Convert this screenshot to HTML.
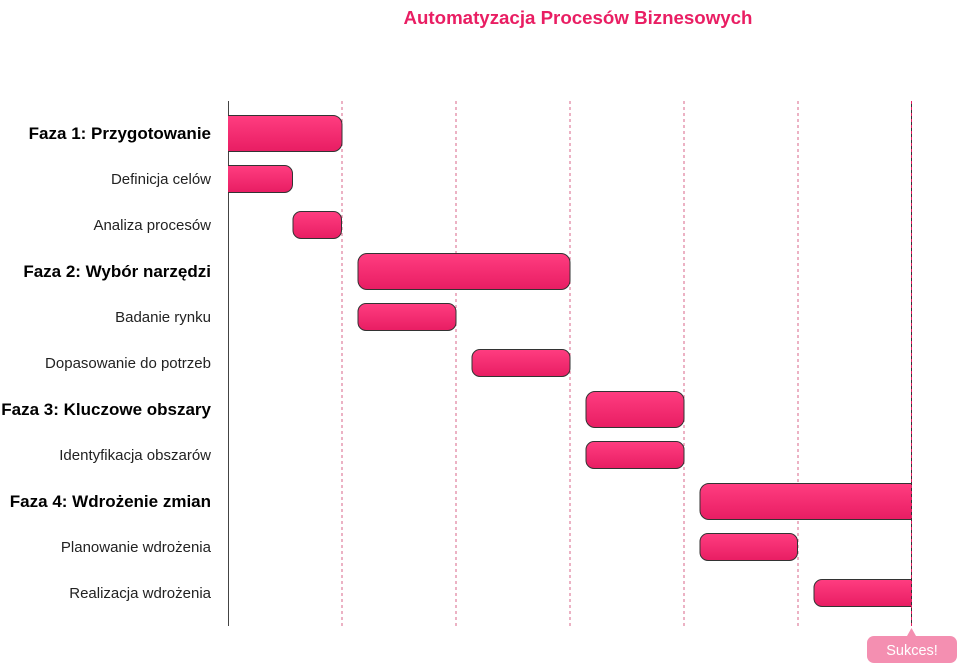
<!DOCTYPE html>
<html><head><meta charset="utf-8"><style>
body{margin:0;background:#fff;}
svg{display:block;font-family:"Liberation Sans",sans-serif;}
</style></head><body>
<svg width="961" height="668" viewBox="0 0 961 668">
<defs>
<linearGradient id="g" x1="0" y1="0" x2="0" y2="1"><stop offset="0" stop-color="#ff3d80"/><stop offset="1" stop-color="#e81d63"/></linearGradient>
<clipPath id="c"><rect x="228" y="95" width="683.5" height="540"/></clipPath>
</defs>
<text x="578" y="24" text-anchor="middle" font-size="18.7" font-weight="bold" fill="#e91e63">Automatyzacja Procesów Biznesowych</text>
<g stroke="#d8668a" stroke-width="1" stroke-dasharray="3,3">
<line x1="342" y1="101" x2="342" y2="626"/><line x1="456" y1="101" x2="456" y2="626"/>
<line x1="570" y1="101" x2="570" y2="626"/><line x1="684" y1="101" x2="684" y2="626"/>
<line x1="798" y1="101" x2="798" y2="626"/>
</g>
<line x1="228.5" y1="101" x2="228.5" y2="626" stroke="#444" stroke-width="1"/>
<g clip-path="url(#c)" fill="url(#g)" stroke="#333" stroke-width="1">
<rect x="218" y="115.5" width="124" height="36" rx="9"/>
<rect x="218" y="165.5" width="74.5" height="27" rx="8"/>
<rect x="293" y="211.5" width="48.5" height="27" rx="8"/>
<rect x="358" y="253.5" width="212" height="36" rx="9"/>
<rect x="358" y="303.5" width="98" height="27" rx="8"/>
<rect x="472" y="349.5" width="98" height="27" rx="8"/>
<rect x="586" y="391.5" width="98" height="36" rx="9"/>
<rect x="586" y="441.5" width="98" height="27" rx="8"/>
<rect x="700" y="483.5" width="225" height="36" rx="9"/>
<rect x="700" y="533.5" width="97.5" height="27" rx="8"/>
<rect x="814" y="579.5" width="110" height="27" rx="8"/>
</g>
<line x1="911.5" y1="101" x2="911.5" y2="626" stroke="#e91e63" stroke-width="1" stroke-dasharray="3,3"/>
<line x1="911.5" y1="101" x2="911.5" y2="626" stroke="#333" stroke-width="1" stroke-dasharray="3,3" stroke-dashoffset="3"/>
<g font-size="15" fill="#222" text-anchor="end">
<text x="211" y="139" font-size="17" font-weight="bold" fill="#000">Faza 1: Przygotowanie</text>
<text x="211" y="184">Definicja celów</text>
<text x="211" y="230">Analiza procesów</text>
<text x="211" y="277" font-size="17" font-weight="bold" fill="#000">Faza 2: Wybór narzędzi</text>
<text x="211" y="322">Badanie rynku</text>
<text x="211" y="368">Dopasowanie do potrzeb</text>
<text x="211" y="415" font-size="17" font-weight="bold" fill="#000">Faza 3: Kluczowe obszary</text>
<text x="211" y="460">Identyfikacja obszarów</text>
<text x="211" y="507" font-size="17" font-weight="bold" fill="#000">Faza 4: Wdrożenie zmian</text>
<text x="211" y="552">Planowanie wdrożenia</text>
<text x="211" y="598">Realizacja wdrożenia</text>
</g>
<path d="M907 636 L911.5 628 L916 636 Z" fill="#f48fb1"/>
<rect x="867" y="636" width="90" height="27" rx="7" fill="#f48fb1"/>
<text x="912" y="655" text-anchor="middle" font-size="14.5" fill="#fff">Sukces!</text>
</svg>
</body></html>
